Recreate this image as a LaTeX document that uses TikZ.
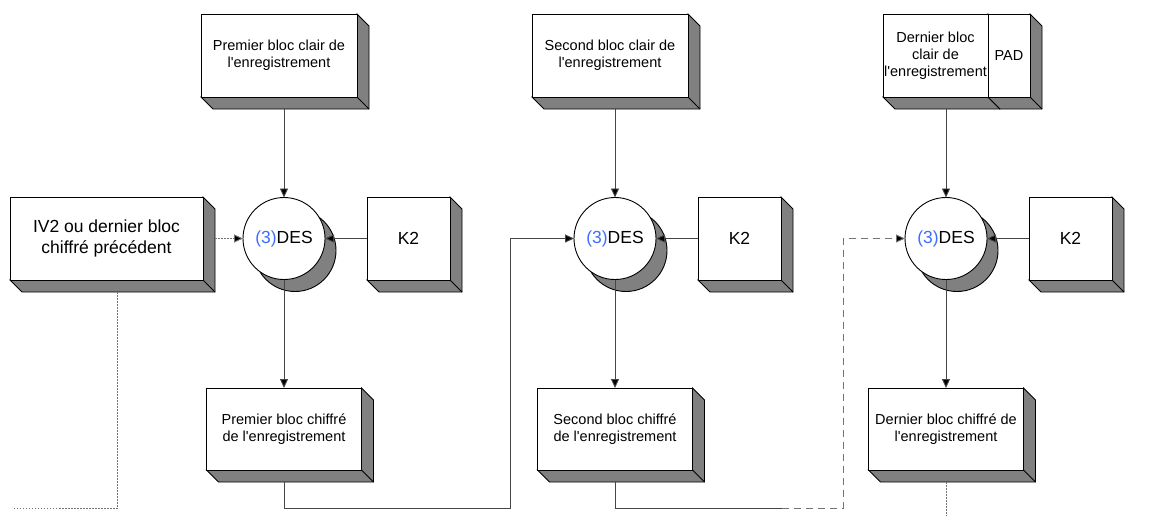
\documentclass[tikz,border=0pt]{standalone}
\usepackage{fontspec}
\setmainfont{Liberation Sans}[Ligatures=TeXOff]
\usetikzlibrary{arrows.meta,backgrounds}
\definecolor{ombre}{RGB}{128,128,128}
\definecolor{bleu}{RGB}{60,110,255}
\definecolor{trait}{RGB}{70,70,70}
\tikzset{
  bloc/.style={draw, fill=white, line width=0.9pt, inner sep=1pt, outer sep=0pt, align=center,
    font=\fontsize{14.5}{16.8}\selectfont},
  grand/.style={bloc, font=\fontsize{17.5}{21}\selectfont},
  des/.style={circle, draw, fill=white, line width=0.9pt, minimum size=82, inner sep=0pt, outer sep=0pt,
    font=\fontsize{17.5}{21}\selectfont},
  face/.style={draw, fill=ombre, line width=0.9pt},
  lien/.style={draw=trait, line width=0.9pt},
  fleche/.style={lien, -{Triangle[length=9pt,width=8pt,fill=black]}},
  tirets/.style={dash pattern=on 7pt off 5pt, draw=ombre!90!black},
  pointille/.style={dash pattern=on 1.5pt off 1.5pt, draw=ombre!90!black}
}
\begin{document}
\begin{tikzpicture}[x=1pt,y=-1pt]
\useasboundingbox (0,0) rectangle (1161,515);
% blocs clairs
\node[bloc, minimum width=156, minimum height=83] (clair1) at (279,55.5) {Premier bloc clair de\\l'enregistrement};
\node[bloc, minimum width=156, minimum height=83] (clair2) at (610,55.5) {Second bloc clair de\\l'enregistrement};
\node[bloc, minimum width=105, minimum height=83] (clair3) at (935.5,55.5) {Dernier bloc\\clair de\\l'enregistrement};
\node[bloc, minimum width=42, minimum height=83] (pad3) at (1009,55.5) {PAD};
% vecteur initial
\node[grand, minimum width=193, minimum height=83] (iv) at (106.5,238.5) {IV2 ou dernier bloc\\chiffré précédent};
% chiffrement et cles
\foreach \i/\x in {1/284,2/615,3/946} {
  \node[des] (des\i) at (\x,238.5) {{\color{bleu}(3)}DES};
  \node[grand, minimum width=83, minimum height=83] (cle\i) at (\x+124.5,238.5) {K2};
}
% blocs chiffres
\node[bloc, minimum width=155, minimum height=82] (chiffre1) at (284,429) {Premier bloc chiffré\\de l'enregistrement};
\node[bloc, minimum width=155, minimum height=82] (chiffre2) at (615,429) {Second bloc chiffré\\de l'enregistrement};
\node[bloc, minimum width=155, minimum height=82] (chiffre3) at (946,429) {Dernier bloc chiffré de\\l'enregistrement};

% relief des blocs et ombres
\begin{scope}[on background layer]
  \foreach \n in {clair1,clair2,clair3,pad3,iv,cle1,cle2,cle3,chiffre1,chiffre2,chiffre3} {
    \draw[face] (\n.north east) -- ++(12,12) -- ([shift={(12,12)}]\n.south east)
      -- ([shift={(12,12)}]\n.south west) -- (\n.south west) -- (\n.south east) -- cycle;
    \draw[line width=0.9pt] (\n.south east) -- ++(12,12);
  }
  \foreach \i in {1,2,3}
    \draw[face] ([shift={(11,12)}]des\i.center) circle (41);
\end{scope}

% liaisons
\foreach \i in {1,2,3} {
  \draw[fleche] (des\i |- clair\i.south) ++(0,12) -- (des\i);
  \draw[fleche] (cle\i) -- (des\i);
  \draw[fleche] (des\i) -- (chiffre\i);
}
\coordinate (fin0) at (13,508);
\coordinate (coin1) at (510,508);
\coordinate (mi2) at (782,508);
\coordinate (coin2) at (843,508);
\draw[fleche, pointille] ([xshift=12]iv.east) -- (des1);
\draw[lien, pointille] ([shift={(11,12)}]iv.south) |- (fin0);
\draw[fleche] (chiffre1.south) ++(0,12) |- (coin1) |- (des2);
\draw[lien] (chiffre2.south) ++(0,12) |- (mi2);
\draw[fleche, tirets] (mi2) -- (coin2) |- (des3);
\draw[lien, pointille] (chiffre3.south) ++(0,12) -- ++(0,35);
\end{tikzpicture}
\end{document}
